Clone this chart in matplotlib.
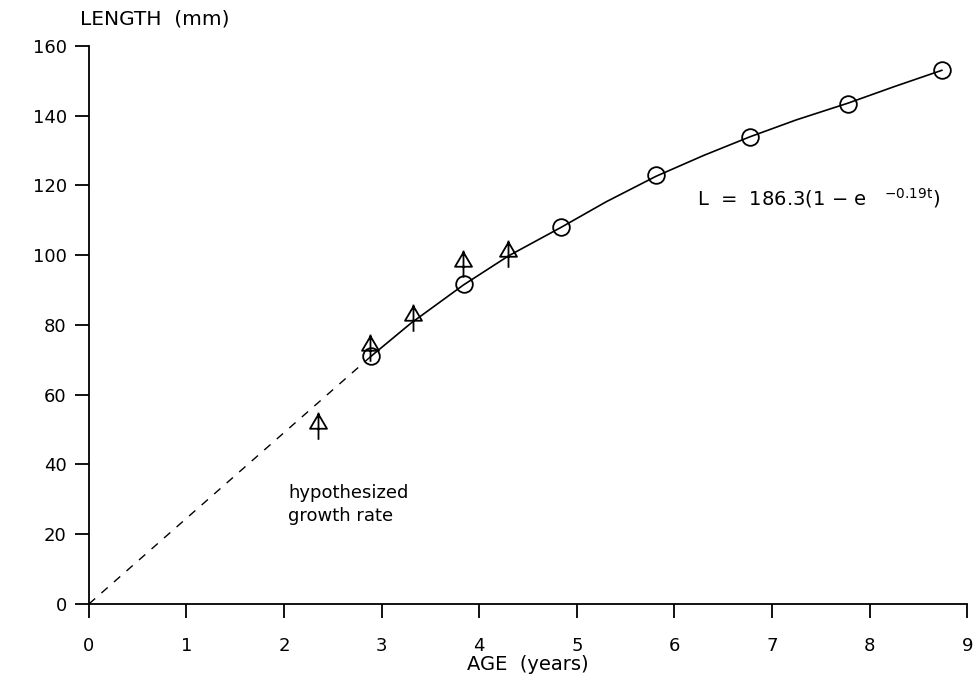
import matplotlib
matplotlib.use("Agg")
import matplotlib.pyplot as plt
from matplotlib.path import Path

# observed mean lengths (circles)
circle_age = [2.89, 3.84, 4.84, 5.81, 6.77, 7.78, 8.74]
circle_len = [71.0, 91.7, 108.0, 122.9, 133.8, 143.3, 153.0]

# back-calculated lengths (arrow-triangles)
tri_age = [2.35, 2.88, 3.32, 3.83, 4.29]
tri_len = [51.6, 73.9, 82.5, 98.0, 101.0]

# fitted growth curve
curve_age = [2.89, 3.3, 3.84, 4.3, 4.84, 5.3, 5.81, 6.3, 6.77, 7.25, 7.78, 8.25, 8.74]
curve_len = [71.0, 80.5, 91.5, 99.8, 108.0, 115.3, 122.6, 128.6, 133.9, 138.8, 143.6, 148.3, 153.0]

# hypothesized early growth (dashed)
hyp_age = [0.0, 2.89]
hyp_len = [0.0, 71.0]

x_ticks = list(range(0, 10))
y_ticks = list(range(0, 161, 20))

plt.rcParams["font.family"] = ["DejaVu Sans"]

# triangle with a vertical stem through it
tri_marker = Path(
    [(-0.5, -0.25), (0.0, 0.6), (0.5, -0.25), (-0.5, -0.25),
     (0.0, 0.7), (0.0, -0.9)],
    [Path.MOVETO, Path.LINETO, Path.LINETO, Path.CLOSEPOLY,
     Path.MOVETO, Path.LINETO],
)

fig = plt.figure(figsize=(9.77, 6.89), dpi=100)
ax = fig.add_axes([0.091, 0.1234, 0.899, 0.81])

ax.plot(hyp_age, hyp_len, color="black", linestyle=(0, (6, 6)), linewidth=1.0)
ax.plot(curve_age, curve_len, color="black", linewidth=1.2)
ax.plot(circle_age, circle_len, linestyle="none", marker="o", markersize=12,
        markerfacecolor="none", markeredgecolor="black", markeredgewidth=1.3)
ax.plot(tri_age, tri_len, linestyle="none", marker=tri_marker, markersize=22,
        markerfacecolor="none", markeredgecolor="black", markeredgewidth=1.3)

ax.set_xlim(0, 9)
ax.set_ylim(0, 160)
ax.set_xticks(x_ticks)
ax.set_yticks(y_ticks)
ax.spines["top"].set_visible(False)
ax.spines["right"].set_visible(False)
for s in ("left", "bottom"):
    ax.spines[s].set_linewidth(1.3)
ax.tick_params(direction="out", length=10, width=1.3, labelsize=13, pad=6)
ax.tick_params(axis="x", pad=14)
ax.set_xlabel("AGE  (years)", fontsize=14, labelpad=0)

fig.text(0.158, 0.972, "LENGTH  (mm)", fontsize=14.5, ha="center", va="center")

ax.text(2.04, 28.5, "hypothesized\ngrowth rate", fontsize=13, ha="left", va="center",
        linespacing=1.3)
ax.text(6.23, 116.5, r"L  =  186.3(1 $-$ e   $^{-0.19\mathrm{t}}$)", fontsize=14,
        ha="left", va="center")

fig.savefig("out.png", dpi=100)
